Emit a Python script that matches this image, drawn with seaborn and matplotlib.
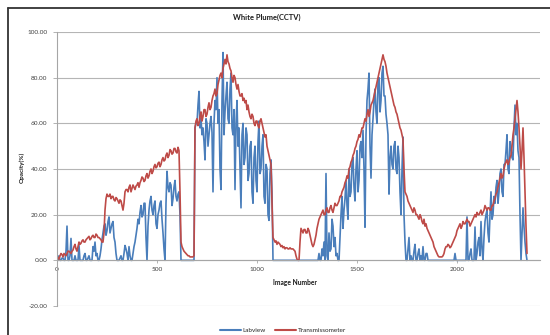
import matplotlib
matplotlib.use("Agg")
import matplotlib.pyplot as plt
import pandas as pd
import seaborn as sns
from matplotlib.lines import Line2D

# ---- data ----
image_number = list(range(0, 2351, 5))

labview = [
    0, 0, 2, 0, 0, 1, 1, 0, 0, 4, 15, 0, 0, 2, 9.6, 0, 0, 0, 2, 0,
    0, 0, 6.5, 0, 0, 0, 0, 2, 3, 0, 0, 1, 2, 0, 0, 0, 6, 4, 8, 2,
    3, 0, 0, 2, 5, 9, 12, 15, 16, 11, 13, 17, 19, 12, 14, 16, 17, 10, 8, 3,
    0, 0, 0, 1, 2, 0, 0, 3, 6.5, 5, 3, 0, 6, 2, 0, 0, 3, 6, 8, 11,
    14, 18, 16, 21, 24, 19, 20, 25, 25, 10, 0, 15, 22, 26, 28, 22, 20, 24, 26, 16,
    14, 20, 22, 25, 26, 18, 12, 5, 0, 25, 39, 32, 30, 34, 33, 24, 27, 32, 35, 28,
    26, 29, 30, 20, 0, 0, 0, 0, 0, 0, 0, 0, 0, 0, 0, 0, 0, 0, 58, 60,
    60, 68, 74, 58, 62, 55, 58, 52, 44, 62, 60, 50, 55, 60, 63, 56, 30, 60, 70, 66,
    80, 60, 66, 40, 31, 70, 91, 55, 65, 72, 78, 62, 60, 75, 82, 58, 55, 66, 31, 60,
    70, 50, 58, 40, 23, 55, 60, 42, 45, 58, 55, 35, 38, 50, 52, 30, 25, 45, 50, 35,
    30, 52, 61, 38, 40, 50, 55, 28, 25, 42, 40, 20, 17.5, 38, 44, 30, 0, 0, 0, 0,
    0, 0, 0, 0, 0, 0, 0, 0, 0, 0, 0, 0, 0, 0, 0, 0, 0, 0, 0, 0,
    0, 0, 0, 0, 0, 0, 0, 0, 0, 0, 0, 0, 0, 0, 0, 0, 0, 0, 0, 0,
    0, 0, 3, 0, 0, 5, 2, 8, 0, 38, 2, 0, 12, 4, 5, 18, 15, 6, 10, 2,
    3, 0, 0, 10, 20, 28, 14, 22, 27, 35, 24, 18, 40, 28, 30, 42, 45, 32, 26, 40,
    48, 30, 35, 50, 52, 45, 57, 40, 14.5, 55, 70, 75, 82, 50, 36, 55, 62, 70, 75, 65,
    60, 78, 80, 65, 70, 82, 85, 72, 72, 64, 60, 55, 29, 45, 50, 42, 40, 50, 52, 40,
    38, 50, 45, 30, 20, 40, 54, 20, 8, 0, 0, 5, 10, 0, 2, 0, 0, 4, 7, 0,
    0, 3, 5, 0, 2, 0, 6, 0, 0, 3, 3, 0, 0, 0, 0, 0, 0, 0, 0, 0,
    0, 0, 0, 0, 0, 0, 0, 0, 0, 0, 0, 0, 0, 0, 0, 0, 0, 0, 3, 0,
    0, 0, 0, 0, 0, 0, 0, 0, 0, 0, 19, 0, 0, 3, 5, 0, 0, 0, 14.6, 0,
    3, 8, 10, 2, 17, 5, 0, 10, 17, 20, 22, 12, 8, 20, 30, 18, 20, 28, 25, 32,
    35, 25, 30, 38, 40, 30, 28, 42, 42, 48, 55, 40, 38, 52, 50, 45, 44, 58, 68, 55,
    60, 48, 45, 20, 0, 12, 23, 15, 8, 3, 0,
]

transmissometer = [
    2, 1, 0.5, 2, 3, 2.5, 1.5, 3, 2.5, 2, 3, 4, 4, 3.5, 3, 4, 4.5, 6, 7, 5,
    4, 6, 8, 7, 7.5, 8.5, 9, 8, 8, 9, 9.5, 10, 10.5, 9, 9.5, 10.5, 11, 10, 10, 11.5,
    11, 10, 10, 9.5, 9, 8, 8, 12, 22, 27, 29, 28, 28, 29, 27, 28, 28, 26.5, 26, 27.5,
    27, 26, 25, 26.5, 26, 24, 22, 25, 30, 31, 31, 30, 32, 33, 30, 31.5, 33, 32, 31, 32.5,
    33, 34, 32, 34, 35, 36.5, 36, 34.5, 35, 37, 38, 36, 37, 39, 40, 38, 39, 41, 42, 40.5,
    41, 42.5, 43, 41, 42, 44, 45, 43.5, 44, 46, 47, 45, 46, 48.5, 48, 46.5, 47, 49, 49, 47.5,
    47, 49.5, 48, 30, 8, 6, 5, 4, 3.5, 3, 2.5, 2, 2, 1.5, 1.5, 1.5, 1.5, 2, 58, 61,
    62, 59, 60, 63, 65, 61, 63, 66, 66, 63, 64, 67, 69, 66, 67, 70, 72, 73, 75, 72,
    73, 77, 79, 81, 82, 80, 84, 86, 88, 86, 90, 87, 86, 84, 83, 80, 78, 81, 80, 77,
    75, 77, 74, 72, 72, 73, 70, 71, 69, 70, 66, 68, 65, 63, 62, 64, 63, 60, 59, 61,
    61, 59, 58, 61, 62, 60, 58, 56, 54, 55, 50, 48, 46, 44, 42, 25, 10, 9, 8, 8.5,
    7, 8, 7.5, 7, 6, 6.5, 5.5, 6, 5, 5.5, 5.5, 5, 5, 5.5, 5, 5, 5, 4.5, 4, 2,
    0.5, 0, 0, 8, 14, 13, 12, 13.5, 13.5, 12, 12, 14, 13, 11, 9, 7, 6, 7, 9, 11,
    14, 16, 18, 19, 20, 21, 22, 20, 20, 22, 23, 21, 21, 23, 24, 22, 21, 23, 25, 24,
    24, 25, 26, 28, 28, 30, 31, 32, 34, 35, 37, 36, 40, 41, 43, 44, 46, 47, 49, 50,
    52, 53, 55, 54, 56, 58, 58, 60, 62, 61, 64, 66, 63, 65, 68, 69, 70, 72, 74, 76,
    78, 80, 82, 84, 86, 88, 90, 88, 87, 85, 82, 80, 78, 76, 74, 72, 70, 68, 67, 65,
    64, 62, 60, 58, 57, 55, 53, 40, 30, 29, 28, 26, 25, 24, 23, 22, 21, 23, 22, 20,
    20, 19, 18, 20, 19, 17, 16, 18, 15, 16, 14, 13, 12, 11, 10, 9, 8, 6, 5, 4,
    3, 2, 1.5, 1.5, 1.5, 1.5, 2, 3, 5, 6, 6, 7, 6.5, 5.5, 6, 7, 8, 9, 10, 11,
    13, 14, 15, 16, 14, 15, 17, 16, 16, 17, 18, 17, 17, 15, 16, 17, 18, 19, 20, 19,
    21, 20, 20, 21, 22, 20, 21, 22, 24, 23, 22, 23, 23, 22, 22, 24, 24, 26, 27, 29,
    30, 32, 34, 36, 38, 36, 37, 40, 42, 43, 44, 42, 43, 45, 46, 50, 55, 58, 62, 66,
    70, 65, 58, 50, 40, 48, 58, 45, 30, 15, 3,
]

series_names = ["Labview", "Transmissometer"]
series_colors = ["#4a7ebb", "#be4b48"]
y_ticks = [-20, 0, 20, 40, 60, 80, 100]
x_ticks = [0, 500, 1000, 1500, 2000]

df = pd.DataFrame({
    "Image Number": image_number + image_number,
    "Opacity": labview + transmissometer,
    "Series": [series_names[0]] * len(image_number) + [series_names[1]] * len(image_number),
})

sns.set_theme(style="white")
plt.rcParams["font.family"] = ["Lato", "DejaVu Sans"]

W, H = 550, 335
fig = plt.figure(figsize=(W / 100, H / 100), dpi=100)
fig.patch.set_facecolor("white")

ax_l, ax_r, ax_t, ax_b = 57, 540, 32, 306
ax = fig.add_axes([ax_l / W, 1 - ax_b / H, (ax_r - ax_l) / W, (ax_b - ax_t) / H])

sns.lineplot(data=df, x="Image Number", y="Opacity", hue="Series",
             palette=series_colors, estimator=None, sort=False,
             linewidth=1.2, ax=ax, legend=False)

ax.set_xlim(0, 2415)
ax.set_ylim(-20, 100)
ax.set_yticks(y_ticks)
ax.set_yticklabels([f"{v:.2f}" for v in y_ticks])
ax.set_xticks(x_ticks)
ax.set_xticklabels([str(v) for v in x_ticks])
ax.set_xlabel("")
ax.set_ylabel("")

ax.grid(axis="y", color="#b5b5b5", linewidth=0.8)
ax.grid(axis="x", visible=False)
ax.set_axisbelow(True)
for s in ["top", "right"]:
    ax.spines[s].set_visible(False)
ax.spines["bottom"].set_position(("data", 0))
ax.spines["bottom"].set_color("#a6a6a6")
ax.spines["left"].set_color("#a6a6a6")
ax.spines["bottom"].set_linewidth(0.8)
ax.spines["left"].set_linewidth(0.8)

ax.tick_params(axis="y", length=3, width=0.6, color="#a6a6a6", pad=4,
               labelsize=4.6, labelcolor="#404040", left=True)
ax.tick_params(axis="x", length=2, width=0.6, color="#a6a6a6", pad=3,
               labelsize=4.6, labelcolor="#404040", bottom=True)

fig.text(267 / W, 1 - 17 / H, "White Plume(CCTV)", ha="center", va="center",
         fontsize=5.4, fontweight="bold", color="#1a1a1a")
fig.text(22 / W, 1 - 167 / H, "Opacity(%)", ha="center", va="center",
         rotation=90, fontsize=4.6, fontweight="bold", color="#1a1a1a")
fig.text(295 / W, 1 - 282 / H, "Image Number", ha="center", va="center",
         fontsize=4.8, fontweight="bold", color="#1a1a1a")

handles = [Line2D([], [], color=c, lw=1.5) for c in series_colors]
fig.legend(handles, series_names, loc="center", bbox_to_anchor=(283 / W, 1 - 330 / H),
           ncol=2, frameon=False, fontsize=4.6, handlelength=3.2,
           columnspacing=1.5, handletextpad=0.3)

# chart-area border (top and left edges visible)
fig.add_artist(Line2D([8 / W, 8 / W], [0, 1 - 8 / H], transform=fig.transFigure,
                      color="#333333", lw=1.3))
fig.add_artist(Line2D([8 / W, 1], [1 - 8 / H, 1 - 8 / H], transform=fig.transFigure,
                      color="#333333", lw=1.3))

fig.savefig("out.png", dpi=100, facecolor="white")
